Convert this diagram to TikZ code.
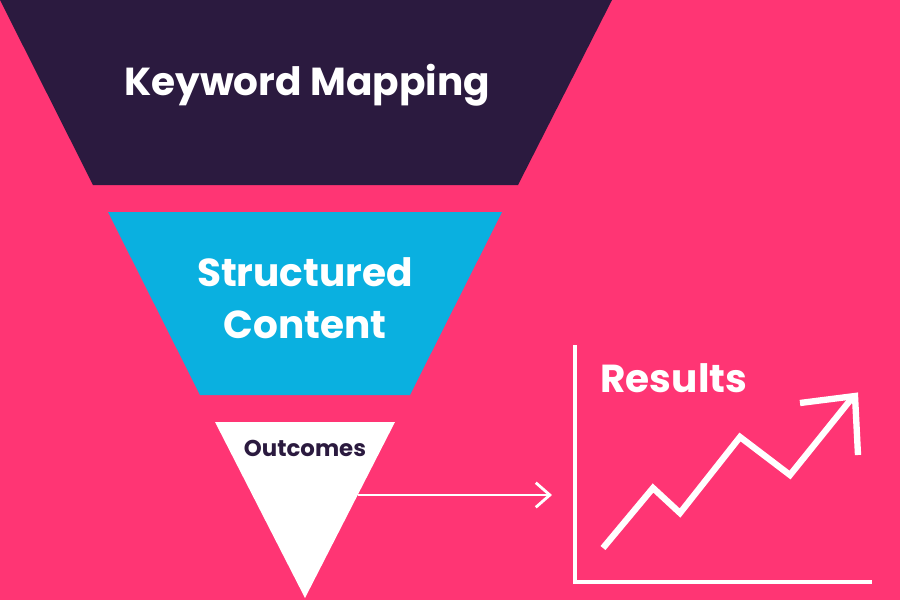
\documentclass[tikz,border=0pt]{standalone}
\usepackage{fontspec}
\setmainfont{Poppins}
\usetikzlibrary{arrows.meta}
\definecolor{bgpink}{HTML}{FF3574}
\definecolor{darkband}{HTML}{2B1A3F}
\definecolor{blueband}{HTML}{0AB0E0}
\tikzstyle{label}=[text=white, font=\bfseries\fontsize{11.1}{13.5}\selectfont, align=center]
\tikzstyle{axis}=[draw=white, line width=1.4pt]

\begin{document}
\begin{tikzpicture}[x=0.01cm, y=-0.01cm, >=Stealth]
          \fill [bgpink] (0,0) rectangle (900,600);
          \useasboundingbox (0,0) rectangle (900,600);

          % funnel
          \fill [darkband] (0,0) -- (612,0) -- (518,185) -- (93,185) -- cycle;
          \fill [blueband] (108,212) -- (502,212) -- (410,395) -- (200,395) -- cycle;
          \fill [white] (215,422) -- (395,422) -- (305,598) -- cycle;

          \node (keyword) [label] at (307,85) {Keyword Mapping};
          \node (content) [label, text depth=0pt] at (305,298) {Structured\\[0.05cm]Content};
          \node (outcomes) [label, text=darkband, font=\bfseries\fontsize{6.5}{8}\selectfont] at (305,448) {Outcomes};

          % chart
          \coordinate (from) at (358,495);
          \coordinate (to) at (552,495);
          \draw [->, white, line width=0.8pt, >={Straight Barb[length=4pt,width=7pt]}] (from) -- (to);

          \coordinate (top) at (575,345);
          \coordinate (origin) at (575,582);
          \coordinate (right) at (872,582);
          \draw [axis] (top) -- (origin) -- (right);

          \node (results) [label, anchor=west] at (588,378) {Results};

          \draw [white, line width=1.8pt, line join=miter]
              (603,548) -- (653,488) -- (680,513) -- (740,437) -- (790,475) -- (852,398);
          \draw [white, line width=1.8pt] (800,403) -- (855,396) -- (858,455);
\end{tikzpicture}
\end{document}
